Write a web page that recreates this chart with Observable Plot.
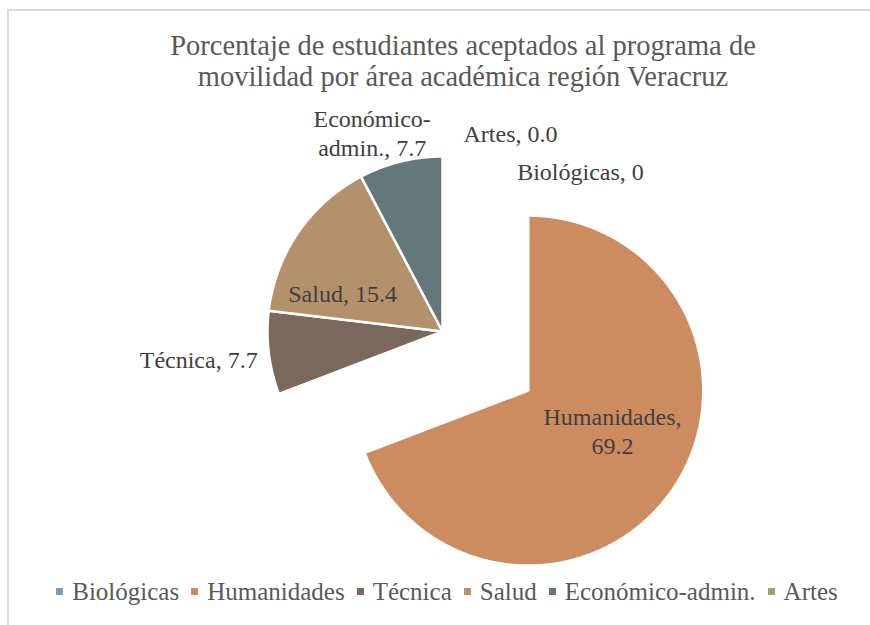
<!DOCTYPE html>
<html><head><meta charset="utf-8">
<script src="https://cdn.jsdelivr.net/npm/d3@7"></script>
<script src="https://cdn.jsdelivr.net/npm/@observablehq/plot@0.6"></script>
<style>
html,body{margin:0;padding:0;background:#fff}
body{width:870px;height:625px;overflow:hidden;position:relative;font-family:"Liberation Serif",serif}
#frame{position:absolute;left:7px;top:9px;width:900px;height:700px;border-left:2px solid #d9d9d9;border-top:2px solid #d9d9d9;box-sizing:border-box}
#chart{position:absolute;left:0;top:0}
#title{position:absolute;left:0;top:30px;width:926px;text-align:center;font-size:28.5px;line-height:31px;color:#595959}
#legend{position:absolute;left:0;top:580px;width:894px;display:flex;justify-content:center;font-size:25px;line-height:24px;color:#595959;white-space:nowrap}
#legend .item{display:flex;align-items:center;margin:0 6px}
#legend .sw{width:7px;height:7px;margin-right:9px;margin-top:-2px}
</style>
</head><body>
<div id="frame"></div>
<div id="chart"></div>
<div id="title">Porcentaje de estudiantes aceptados al programa de<br>movilidad por área académica región Veracruz</div>
<div id="legend"></div>
<script>
// ---- data ----
const categories = ["Biológicas", "Humanidades", "Técnica", "Salud", "Económico-admin.", "Artes"];
const values = [0, 69.2, 7.7, 15.4, 7.7, 0];
const valueLabels = ["0", "69.2", "7.7", "15.4", "7.7", "0.0"];
const colors = ["#7f98b3", "#cc8c60", "#7a685c", "#b3916b", "#647779", "#a39e74"];
const exploded = ["Humanidades"];

// ---- layout (styles) ----
const W = 870, H = 625;
const R = 175;           // pie radius in px
const CX = 442, CY = 331; // pie centre in px
const explodeDist = 0.595;
// label placement: radial factor along mid-angle, pixel nudges, anchor
const labelLayout = {
  "Biológicas":       {k: 1.0,  dx: 138, dy: 14,  anchor: "middle", text: "Biológicas, "},
  "Humanidades":      {k: 0.55, dx: 5,   dy: -15, anchor: "middle", text: "Humanidades,\n"},
  "Técnica":          {k: 1.07, dx: 1,   dy: 4,   anchor: "end",    text: "Técnica, "},
  "Salud":            {k: 0.61, dx: -12, dy: 22,  anchor: "middle", text: "Salud, "},
  "Económico-admin.": {k: 1.2,  dx: -20, dy: 5,   anchor: "middle", text: "Económico-\nadmin., "},
  "Artes":            {k: 1.0,  dx: 68,  dy: -24, anchor: "middle", text: "Artes, "}
};

// ---- geometry from data ----
const arcs = d3.pie().sort(null).value(d => d)(values);
const slices = arcs.map((a, i) => {
  const name = categories[i];
  const mid = (a.startAngle + a.endAngle) / 2;
  const off = exploded.includes(name) ? explodeDist : 0;
  return {name, i, a0: a.startAngle, a1: a.endAngle, mid,
          cx: off * Math.sin(mid), cy: off * Math.cos(mid)};
});
const poly = [];
for (const s of slices) {
  if (s.a1 - s.a0 <= 0) continue;
  poly.push({name: s.name, x: s.cx, y: s.cy});
  const n = Math.max(2, Math.ceil((s.a1 - s.a0) / (Math.PI / 360)));
  for (let j = 0; j <= n; j++) {
    const t = s.a0 + (s.a1 - s.a0) * j / n;
    poly.push({name: s.name, x: s.cx + Math.sin(t), y: s.cy + Math.cos(t)});
  }
}
const labels = slices.map(s => {
  const L = labelLayout[s.name];
  return {name: s.name, text: L.text + valueLabels[s.i],
          x: s.cx + L.k * Math.sin(s.mid), y: s.cy + L.k * Math.cos(s.mid),
          dx: L.dx, dy: L.dy, anchor: L.anchor};
});

const xDomain = [-CX / R, (W - CX) / R];
const yDomain = [(CY - H) / R, CY / R];

const marks = [
  Plot.line(poly, {x: "x", y: "y", z: "name", fill: "name", stroke: "white",
                   strokeWidth: 2.5, curve: "linear-closed", strokeLinejoin: "miter"})
];
for (const d of labels) {
  marks.push(Plot.text([d], {x: "x", y: "y", text: "text", textAnchor: d.anchor,
    dx: d.dx, dy: d.dy, fill: "#404040", fontSize: 24, lineHeight: 1.19,
    fontFamily: "Liberation Serif"}));
}

const chart = Plot.plot({
  width: W, height: H,
  marginTop: 0, marginRight: 0, marginBottom: 0, marginLeft: 0,
  x: {domain: xDomain, axis: null},
  y: {domain: yDomain, axis: null},
  color: {domain: categories, range: colors},
  style: {background: "transparent", overflow: "visible"},
  marks
});
document.getElementById("chart").appendChild(chart);

// legend
const lg = document.getElementById("legend");
categories.forEach((c, i) => {
  const it = document.createElement("div");
  it.className = "item";
  const sw = document.createElement("span");
  sw.className = "sw";
  sw.style.background = colors[i];
  const tx = document.createElement("span");
  tx.textContent = c;
  it.appendChild(sw); it.appendChild(tx);
  lg.appendChild(it);
});
</script>
</body></html>
